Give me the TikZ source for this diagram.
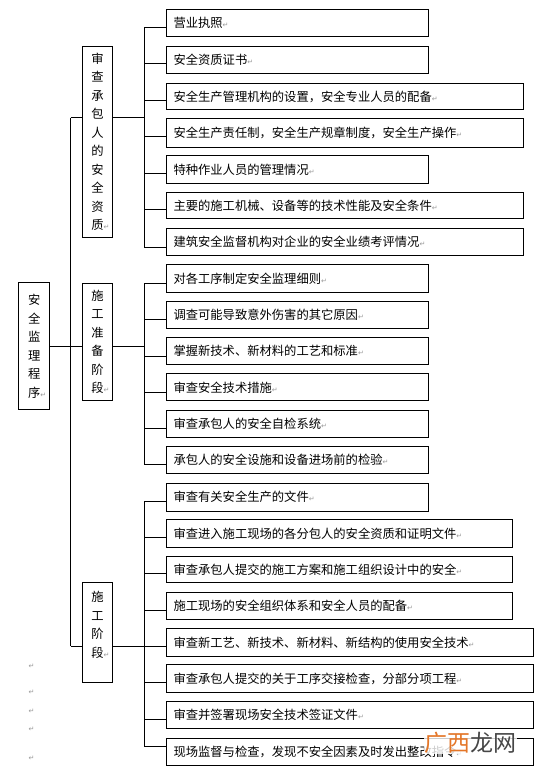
\documentclass[tikz,border=0pt]{standalone}
\usepackage{fontspec}
\newfontfamily\cjk{Noto Sans CJK SC}
\newfontfamily\dejavu{DejaVu Sans}
\definecolor{wmorange}{RGB}{228,118,40}
\definecolor{wmgray}{RGB}{70,70,70}
\newcommand\pmk{{\dejavu\color{black!40}\fontsize{7}{7}\selectfont ↵}}
\newcommand\vpmk{\rlap{\pmk}}
\begin{document}
\begin{tikzpicture}[x=1pt,y=-1pt,
  box/.style={draw=black,line width=1pt,inner sep=0pt,font=\cjk\fontsize{12.3}{18.5}\selectfont},
  itembox/.style={box,anchor=north west,align=left,inner xsep=7pt},
  vbox/.style={box,anchor=north west,align=center},
  conn/.style={line width=0.9pt},
  strayp/.style={inner sep=0pt,font=\pmk}]
\useasboundingbox (0,0) rectangle (552,773);
\fill[white] (0,0) rectangle (552,773);
% main box
\node[vbox,minimum width=31,minimum height=126.7] (m) at (18.3,282.3) {安\\全\\监\\理\\程\\序\vpmk};
% group boxes
\node[vbox,minimum width=30.6,minimum height=191.6] (g1) at (81.7,45.7) {审\\查\\承\\包\\人\\的\\安\\全\\资\\质\vpmk};
\node[vbox,minimum width=30.6,minimum height=117.6] (g2) at (81.7,282.7) {施\\工\\准\\备\\阶\\段\vpmk};
\node[vbox,minimum width=30.6,minimum height=100] (g3) at (81.7,582.3) {};
\node[inner sep=0pt,align=center,font=\cjk\fontsize{12.3}{18.5}\selectfont] (g3t) at ([yshift=8pt]g3.center) {施\\工\\阶\\段\vpmk};
% group 1 items
\node[itembox,minimum width=262,text width=248,minimum height=26.7] (a1) at (166,9.3) {营业执照\pmk};
\node[itembox,minimum width=262,text width=248,minimum height=27.6] (a2) at (166,45.7) {安全资质证书\pmk};
\node[itembox,minimum width=357,text width=343,minimum height=26.6] (a3) at (166,82.7) {安全生产管理机构的设置，安全专业人员的配备\pmk};
\node[itembox,minimum width=357,text width=343,minimum height=28.4] (a4) at (166,118.3) {安全生产责任制，安全生产规章制度，安全生产操作\pmk};
\node[itembox,minimum width=262,text width=248,minimum height=27.7] (a5) at (166,155) {特种作业人员的管理情况\pmk};
\node[itembox,minimum width=357,text width=343,minimum height=26.6] (a6) at (166,191.7) {主要的施工机械、设备等的技术性能及安全条件\pmk};
\node[itembox,minimum width=357,text width=343,minimum height=27.3] (a7) at (166,227.7) {建筑安全监督机构对企业的安全业绩考评情况\pmk};
% group 2 items
\node[itembox,minimum width=262,text width=248,minimum height=27.4] (b1) at (166,264.3) {对各工序制定安全监理细则\pmk};
\node[itembox,minimum width=262,text width=248,minimum height=27.6] (b2) at (166,300.7) {调查可能导致意外伤害的其它原因\pmk};
\node[itembox,minimum width=262,text width=248,minimum height=27] (b3) at (166,337.3) {掌握新技术、新材料的工艺和标准\pmk};
\node[itembox,minimum width=262,text width=248,minimum height=27] (b4) at (166,373.3) {审查安全技术措施\pmk};
\node[itembox,minimum width=262,text width=248,minimum height=27.3] (b5) at (166,410) {审查承包人的安全自检系统\pmk};
\node[itembox,minimum width=262,text width=248,minimum height=27.3] (b6) at (166,446) {承包人的安全设施和设备进场前的检验\pmk};
% group 3 items
\node[itembox,minimum width=262,text width=248,minimum height=28] (c1) at (166,482.7) {审查有关安全生产的文件\pmk};
\node[itembox,minimum width=346,text width=332,minimum height=27.4] (c2) at (166,519.3) {审查进入施工现场的各分包人的安全资质和证明文件\pmk};
\node[itembox,minimum width=346,text width=332,minimum height=26.6] (c3) at (166,555.7) {审查承包人提交的施工方案和施工组织设计中的安全\pmk};
\node[itembox,minimum width=346,text width=332,minimum height=27.6] (c4) at (166,591.7) {施工现场的安全组织体系和安全人员的配备\pmk};
\node[itembox,minimum width=367,text width=353,minimum height=27.4] (c5) at (166,628.3) {审查新工艺、新技术、新材料、新结构的使用安全技术\pmk};
\node[itembox,minimum width=367,text width=353,minimum height=28] (c6) at (166,664.3) {审查承包人提交的关于工序交接检查，分部分项工程\pmk};
\node[itembox,minimum width=367,text width=353,minimum height=27.3] (c7) at (166,701) {审查并签署现场安全技术签证文件\pmk};
\node[itembox,minimum width=367,text width=353,minimum height=27.3] (c8) at (166,737.7) {现场监督与检查，发现不安全因素及时发出整改指令\pmk};
% junction coordinates
\coordinate (bx) at (144.3,0);
\coordinate (v1) at (70.7,117.7);
\coordinate (v2) at (70.7,346);
\coordinate (v3) at (70.7,646);
% main trunk
\draw[conn] (v1) -- (v3);
\draw[conn] (v1) -- (v1 -| g1.west);
\draw[conn] (v2 -| m.east) -- (v2 -| g2.west);
\draw[conn] (v3) -- (v3 -| g3.west);
\draw[conn] (v1 -| g1.east) -- (v1 -| bx);
\draw[conn] (v2 -| g2.east) -- (v2 -| bx);
\draw[conn] (v3 -| g3.east) -- (v3 -| bx);
% stubs
\foreach \n/\d in {a1/4.6,a2/3.8,a3/4,a4/3.5,a5/4.5,a6/4.3,a7/5.4,
                   b1/4.7,b2/4.8,b3/4.9,b4/4.9,b5/4.6,b6/4.3,
                   c1/4,c2/3.7,c3/4.3,c4/4.5,c5/4,c6/4,c7/4.6,c8/-5.3}{
  \coordinate (s\n) at ([yshift=-\d pt]\n.west);
  \draw[conn] (s\n) -- (s\n -| bx);
}
% brackets
\draw[conn] (sa1 -| bx) -- (sa7 -| bx);
\draw[conn] (sb1 -| bx) -- (sb6 -| bx);
\draw[conn] (sc1 -| bx) -- (sc8 -| bx);
% stray paragraph marks
\node[strayp] (p1) at (31.5,666.5) {};
\node[strayp] (p2) at (31.5,692.5) {};
\node[strayp] (p3) at (31.5,711) {};
\node[strayp] (p4) at (31.5,729) {};
\node[strayp] (p5) at (31.5,758) {};
% watermark
\node[fill=white,fill opacity=0.8,text opacity=1,inner sep=0.5pt,font=\cjk\fontsize{23}{23}\selectfont] (wm) at (470,743) {\textcolor{wmorange}{广西}\textcolor{wmgray}{龙网}};
\end{tikzpicture}
\end{document}
